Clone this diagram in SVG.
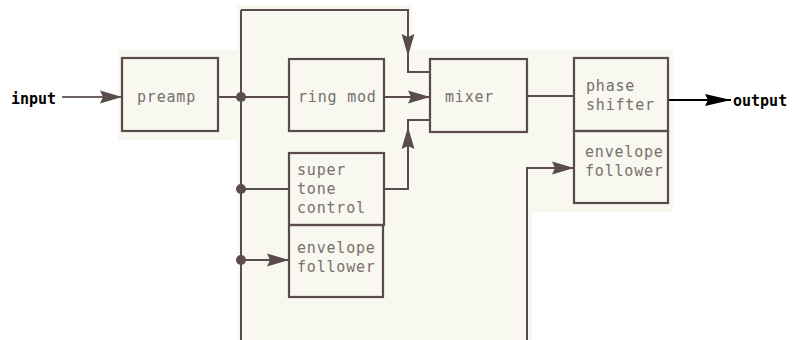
<svg xmlns="http://www.w3.org/2000/svg" width="801" height="340" viewBox="0 0 801 340">
<defs>
<style>
.box{fill:none;stroke:#5a4c4a;stroke-width:2.2}
.ln{fill:none;stroke:#5a4c4a;stroke-width:2}
.lbl{font-family:"DejaVu Sans Mono",monospace;font-size:15px;letter-spacing:0.8px;fill:#77706d}
.io{font-family:"DejaVu Sans Mono",monospace;font-size:15px;font-weight:bold;fill:#000}
.dot{fill:#5a4c4a}
</style>
<marker id="ah" markerWidth="22" markerHeight="16" refX="22" refY="8" orient="auto" markerUnits="userSpaceOnUse">
<path d="M0,1.5 L22,8 L0,14.5 L3,8 Z" fill="#5a4c4a"/>
</marker>
<marker id="ahk" markerWidth="26" markerHeight="14" refX="26" refY="7" orient="auto" markerUnits="userSpaceOnUse">
<path d="M0,1 L26,7 L0,13 L3,7 Z" fill="#000"/>
</marker>
</defs>
<rect width="801" height="340" fill="#fff"/>
<path d="M118,50 H237 V5 H412 V50 H673 V212 H532 V340 H237 V140 H118 Z" fill="#f8f7f0"/>

<g id="connectors">
<line x1="62" y1="97" x2="122" y2="97" stroke="#6e6462" stroke-width="2" marker-end="url(#ah)"/>
<line class="ln" x1="218" y1="97" x2="289" y2="97"/>
<line class="ln" x1="241" y1="10" x2="241" y2="340"/>
<polyline class="ln" points="241,10 408,10 408,72 430,72"/>
<line class="ln" x1="408" y1="10" x2="408" y2="56" marker-end="url(#ah)"/>
<line class="ln" x1="384" y1="97" x2="430" y2="97" marker-end="url(#ah)"/>
<polyline class="ln" points="384,189 408,189 408,120 430,120"/>
<line class="ln" x1="408" y1="189" x2="408" y2="127" marker-end="url(#ah)"/>
<line class="ln" x1="241" y1="189" x2="289" y2="189"/>
<line class="ln" x1="241" y1="260" x2="289" y2="260" marker-end="url(#ah)"/>
<line class="ln" x1="527" y1="96" x2="574" y2="96"/>
<polyline class="ln" points="527,340 527,168 574,168"/>
<line class="ln" x1="527" y1="168" x2="574" y2="168" marker-end="url(#ah)"/>
<line x1="669" y1="100" x2="731" y2="100" stroke="#000" stroke-width="2" marker-end="url(#ahk)"/>
<circle class="dot" cx="241" cy="97" r="5"/>
<circle class="dot" cx="241" cy="189" r="5"/>
<circle class="dot" cx="241" cy="260" r="5"/>
</g>

<g id="input"><text class="io" x="11" y="104">input</text></g>
<g id="output"><text class="io" x="733" y="106" font-size="16">output</text></g>

<g id="preamp">
<rect class="box" x="122" y="58" width="96" height="73"/>
<text class="lbl" x="137" y="102">preamp</text>
</g>
<g id="ringmod">
<rect class="box" x="289" y="59" width="95" height="72"/>
<text class="lbl" x="298" y="102">ring mod</text>
</g>
<g id="mixer">
<rect class="box" x="430" y="59" width="97" height="73"/>
<text class="lbl" x="445" y="102">mixer</text>
</g>
<g id="phaseshifter">
<rect class="box" x="574" y="58" width="94" height="73"/>
<text class="lbl" x="586" y="91">phase</text>
<text class="lbl" x="586" y="110">shifter</text>
</g>
<g id="envelope2">
<rect class="box" x="574" y="131" width="94" height="72"/>
<text class="lbl" x="585" y="157">envelope</text>
<text class="lbl" x="585" y="176">follower</text>
</g>
<g id="supertone">
<rect class="box" x="289" y="153" width="95" height="72"/>
<text class="lbl" x="297" y="175">super</text>
<text class="lbl" x="297" y="194">tone</text>
<text class="lbl" x="297" y="213">control</text>
</g>
<g id="envelope1">
<rect class="box" x="289" y="225" width="94" height="72"/>
<text class="lbl" x="297" y="253">envelope</text>
<text class="lbl" x="297" y="272">follower</text>
</g>
</svg>
